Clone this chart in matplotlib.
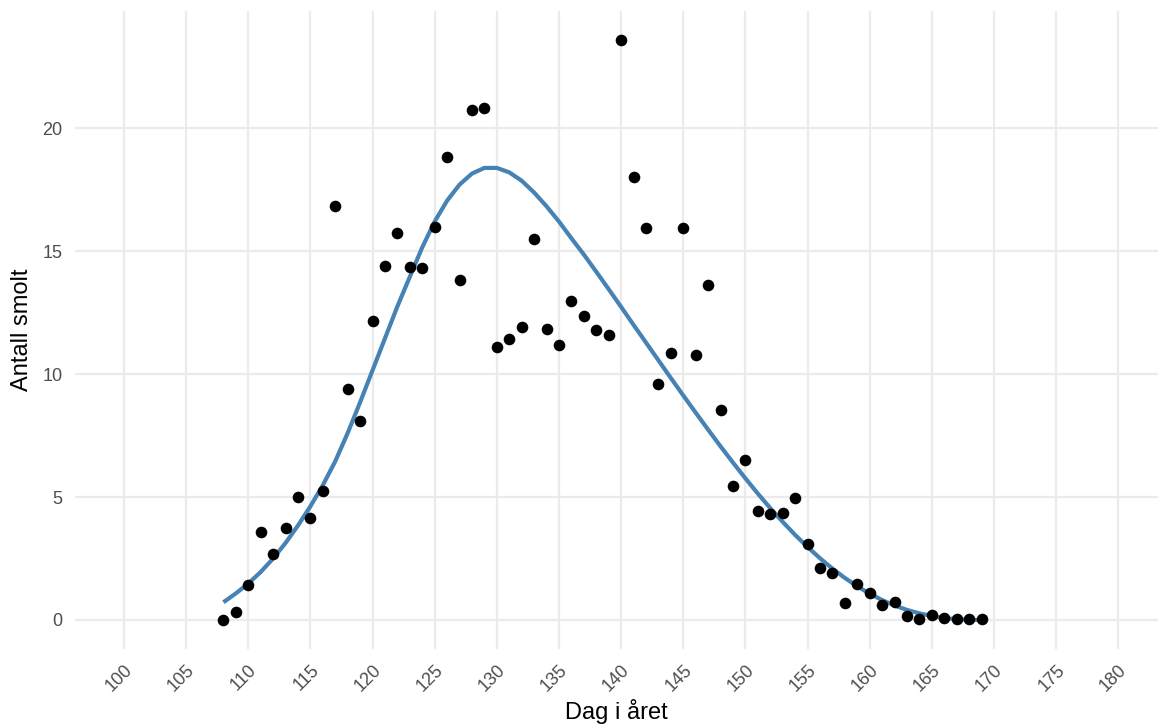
import matplotlib
matplotlib.use("Agg")
import matplotlib.pyplot as plt
import numpy as np

# observed counts per day of year
days = np.arange(108, 170)
counts = [0.0, 0.33, 1.41, 3.56, 2.67, 3.74, 5.0, 4.15, 5.23, 16.83,
          9.41, 8.07, 12.15, 14.4, 15.74, 14.35, 14.3, 15.98, 18.83, 13.82,
          20.75, 20.82, 11.08, 11.41, 11.9, 15.5, 11.83, 11.16, 12.98, 12.35,
          11.77, 11.6, 23.59, 18.02, 15.94, 9.6, 10.85, 15.94, 10.78, 13.6,
          8.52, 5.45, 6.52, 4.45, 4.3, 4.35, 4.95, 3.1, 2.1, 1.93,
          0.68, 1.45, 1.1, 0.62, 0.75, 0.18, 0.02, 0.2, 0.1, 0.02,
          0.02, 0.02]

fit = [0.72, 1.08, 1.48, 1.95, 2.5, 3.13, 3.84, 4.62, 5.48, 6.45,
       7.6, 8.85, 10.15, 11.45, 12.75, 13.95, 15.15, 16.2, 17.05, 17.7,
       18.15, 18.38, 18.38, 18.2, 17.86, 17.38, 16.82, 16.2, 15.52, 14.86,
       14.16, 13.45, 12.73, 12.0, 11.28, 10.56, 9.84, 9.13, 8.43, 7.74,
       7.06, 6.4, 5.76, 5.14, 4.55, 3.99, 3.46, 2.97, 2.51, 2.09,
       1.71, 1.37, 1.07, 0.81, 0.59, 0.41, 0.27, 0.16, 0.08, 0.03,
       0.01, 0.0]

x_ticks = np.arange(100, 181, 5)
y_ticks = [0, 5, 10, 15, 20]

plt.rcParams['font.family'] = ['Liberation Sans', 'DejaVu Sans']

fig = plt.figure(figsize=(11.6, 7.26), dpi=100)
ax = fig.add_axes([75 / 1160, 77 / 726, 1083 / 1160, 638 / 726])

grid_color = '#EBEBEB'
for s in ax.spines.values():
    s.set_visible(False)
ax.set_axisbelow(True)
ax.grid(True, color=grid_color, linewidth=1.6)

ax.plot(days, fit, color='#4682B4', linewidth=3.0, solid_capstyle='butt', zorder=2)
ax.scatter(days, counts, s=70, color='black', linewidths=0, zorder=3)

ax.set_xlim(96.06, 183.2)
ax.set_ylim(-1.18, 24.76)
ax.set_xticks(x_ticks)
ax.set_yticks(y_ticks)
ax.tick_params(length=0, labelsize=13, labelcolor='#4D4D4D')
ax.tick_params(axis='y', pad=9)
ax.tick_params(axis='x', pad=9)
for lab in ax.get_xticklabels():
    lab.set_rotation(45)
    lab.set_ha('right')
    lab.set_va('top')
    lab.set_rotation_mode('anchor')

ax.set_xlabel('Dag i året', fontsize=17, labelpad=3)
ax.set_ylabel('Antall smolt', fontsize=17, labelpad=7)

fig.savefig('out.png', dpi=100)
